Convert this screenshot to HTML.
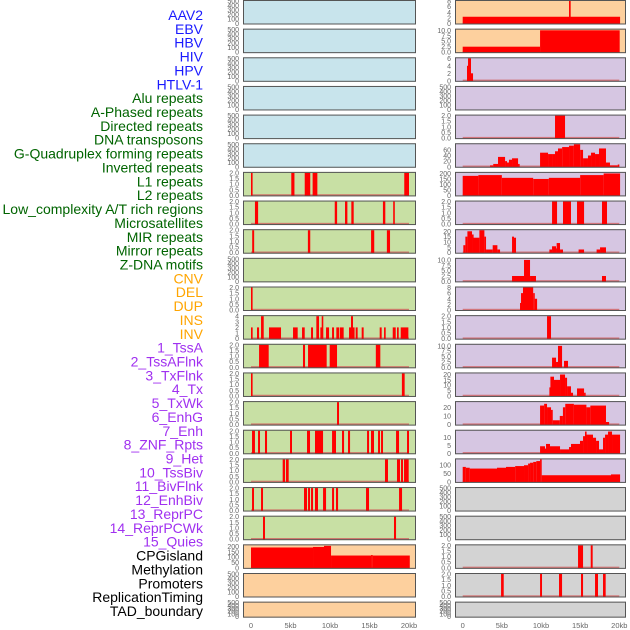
<!DOCTYPE html>
<html><head><meta charset="utf-8">
<style>
html,body{margin:0;padding:0;background:#fff;width:630px;height:630px;overflow:hidden}
svg{display:block}
</style></head>
<body>
<svg id="chart" width="630" height="630" viewBox="0 0 630 630" xmlns="http://www.w3.org/2000/svg">
<g id="labels"></g>
<g id="panels"></g>
<g id="xaxis"></g>
</svg>
<script>
// ---- track labels ----
const labelNames = ["AAV2","EBV","HBV","HIV","HPV","HTLV-1","Alu repeats","A-Phased repeats","Directed repeats","DNA transposons","G-Quadruplex forming repeats","Inverted repeats","L1 repeats","L2 repeats","Low_complexity A/T rich regions","Microsatellites","MIR repeats","Mirror repeats","Z-DNA motifs","CNV","DEL","DUP","INS","INV","1_TssA","2_TssAFlnk","3_TxFlnk","4_Tx","5_TxWk","6_EnhG","7_Enh","8_ZNF_Rpts","9_Het","10_TssBiv","11_BivFlnk","12_EnhBiv","13_ReprPC","14_ReprPCWk","15_Quies","CPGisland","Methylation","Promoters","ReplicationTiming","TAD_boundary"];
const labelGroups = ["v","v","v","v","v","v","r","r","r","r","r","r","r","r","r","r","r","r","r","s","s","s","s","s","c","c","c","c","c","c","c","c","c","c","c","c","c","c","c","o","o","o","o","o"];

// ---- x axis ----
const xTickValues = [0,5,10,15,20];
const xTickLabels = ["0","5kb","10kb","15kb","20kb"];

// ---- column 1 data: [startKb, endKb, value] ----
const c1_L1 = [[0,0.2,2],[5.1,5.5,2],[6.8,7.5,2],[7.8,8.4,2],[19.4,20,2]];
const c1_L2 = [[0.5,0.9,2],[10.6,10.9,2],[11.9,12.2,2],[12.7,13.0,2],[16.7,17.0,2],[18.0,18.2,2]];
const c1_LowComplexity = [[0.15,0.4,2],[7.2,7.5,2],[15.2,15.6,2],[17.2,17.6,2]];
const c1_DEL = [[0,0.2,2]];
const c1_INS = [[0,0.21,2],[0.76,1.02,2],[1.27,1.61,4],[2.28,3.8,2],[5.32,5.91,2],[6.46,6.8,2],[7.6,7.85,2],[8.27,8.61,4],[8.78,8.95,2],[8.95,9.12,4],[9.5,9.88,2],[10.26,10.51,2],[10.8,11.14,2],[11.23,11.73,2],[12.41,12.66,2],[12.66,12.91,4],[12.91,13.08,2],[13.25,13.5,2],[14.01,14.26,2],[16.29,16.54,2],[16.84,17.05,2],[17.94,18.32,2],[18.48,18.7,2],[18.95,19.92,2]];
const c1_INV = [[1.02,2.24,2],[6.58,6.84,2],[7.22,9.58,2],[9.96,10.89,2],[15.8,16.37,2]];
const c1_TssA = [[0,0.2,2],[19.1,19.45,2]];
const c1_TssAFlnk = [[10.89,11.14,2]];
const c1_TxFlnk = [[0.13,0.5,2],[0.89,1.14,2],[1.77,2.03,2],[4.94,5.19,2],[7.09,7.47,2],[8.1,9.12,2],[10.26,10.76,2],[11.52,11.78,2],[12.28,12.54,2],[14.69,14.94,2],[15.19,15.57,2],[16.08,16.33,2],[16.46,16.71,2],[18.36,18.74,2],[19.75,20,2]];
const c1_Tx = [[4.01,4.31,2],[4.43,4.77,2],[16.96,17.34,2],[18.48,18.86,2],[18.99,19.24,2],[19.37,19.96,2]];
const c1_TxWk = [[0.13,0.38,2],[1.27,1.52,2],[6.71,7.09,2],[7.22,7.47,2],[7.6,7.85,2],[8.1,8.48,2],[9.12,9.5,2],[10.26,10.51,2],[10.76,11.02,2],[14.56,14.94,2],[18.74,19.12,2]];
const c1_EnhG = [[1.52,1.77,2],[18.1,18.36,2]];
const c1_CPG = [[0,7.85,190],[7.85,9.24,195],[9.24,10.13,205],[10.13,15.2,115],[15.2,15.4,120],[15.4,20.1,115]];

// ---- column 2 data ----
const c2_AAV2 = [[0,20.1,2.4],[13.58,13.79,8]];
const c2_EBV = [[0,9.88,2.5],[9.88,20.05,10]];
const c2_HBV = [[0.55,0.68,4],[0.68,1.06,6],[1.06,1.32,2]];
const c2_HPV = [[11.79,13.07,2]];
const c2_HTLV = [[3.49,3.9,5],[3.9,4.51,10],[4.51,5.41,35],[5.41,5.66,20],[5.66,5.91,15],[5.91,6.3,25],[6.3,7.07,30],[7.07,7.2,10],[9.88,10.9,50],[10.9,11.41,45],[11.41,11.79,45],[11.79,12.17,55],[12.17,12.7,65],[12.7,13.58,70],[13.58,14.2,75],[14.2,15.0,80],[15.0,15.37,60],[15.37,16.0,30],[16.0,16.39,40],[16.39,16.9,50],[16.9,17.41,45],[17.41,18.3,65],[18.3,18.81,15],[18.81,19.8,5],[19.8,19.95,8]];
const c2_Alu = [[0,2,178],[2,5,185],[5,9,160],[9,11,150],[11,15,160],[15,18,185],[18,20.1,200]];
const c2_APhased = [[11.41,12.05,2],[12.81,13.83,2],[14.6,15.5,2],[17.79,18.43,2]];
const c2_Directed = [[0.08,0.34,7],[0.34,0.6,15],[0.6,1.19,20],[1.19,1.36,17],[1.36,2.13,14],[2.13,2.77,21],[2.77,2.98,15],[2.98,3.83,3],[3.83,4.43,7],[4.43,4.77,3],[6.3,6.55,15],[6.55,6.81,14],[11.07,11.41,3],[11.41,11.92,6],[11.92,12.0,4],[12.0,12.43,9],[12.43,12.81,3],[14.8,15.5,3],[17.1,17.54,3],[17.54,18.3,5]];
const c2_DNA = [[6.3,7.83,2.5],[7.83,8.6,10],[8.6,9.36,2.5],[17.79,18.3,2.5]];
const c2_GQuad = [[7.32,7.45,2.5],[7.45,7.7,6],[7.7,9.0,8],[9.0,9.2,6],[9.2,9.5,4]];
const c2_Inverted = [[10.77,11.28,2]];
const c2_L1 = [[11.41,11.92,4.5],[11.92,12.17,2.5],[12.17,12.69,10],[12.94,13.45,3]];
const c2_L2 = [[11.07,11.2,8],[11.2,11.66,18],[11.66,12.43,15],[12.43,13.07,20],[13.07,13.33,17],[13.33,13.83,9],[13.83,14.09,3],[14.6,15.5,7],[15.5,15.63,3]];
const c2_LowComplexity = [[9.88,10.4,22],[10.4,10.77,24],[10.77,11.28,20],[11.28,11.5,17],[11.5,12.4,5],[12.4,12.8,10],[12.8,13.1,20],[13.1,14.2,24],[14.2,15.8,23],[15.8,16.3,20],[16.3,18.3,22],[18.3,18.7,3]];
const c2_Micro = [[9.88,10.51,4.5],[10.51,10.64,3],[10.64,11.15,6],[11.15,12.43,4.5],[12.43,13.58,2.5],[13.58,13.83,4],[13.83,14.98,6],[14.98,15.37,8],[15.37,15.62,11],[15.62,15.75,14],[15.75,16.0,12],[16.0,16.64,12],[16.64,17.03,10],[17.03,17.41,8],[17.41,17.92,2.5],[17.92,18.18,10],[18.18,18.56,12],[18.56,19.07,14],[19.07,20.1,12]];
const c2_MIR = [[0,0.4,90],[0.4,0.9,85],[0.9,4.38,80],[4.38,5.53,85],[5.53,6.7,90],[6.7,7.83,95],[7.83,8.35,100],[8.35,8.6,110],[8.6,9.0,115],[9.0,9.4,120],[9.4,9.88,125],[9.88,10.09,135],[10.09,18.94,40],[18.94,20.1,45]];
const c2_Quies = [[14.73,15.37,2],[16.35,16.6,2]];
const c2_ReplTiming = [[4.9,5.24,2],[9.88,10.13,2],[12.3,12.69,2],[15.11,15.37,2],[16.9,17.28,2],[17.92,18.26,2]];

// ---- tick label sets ----
const ticks500 = ["0","100","200","300","400","500"];
const ticks2 = ["0.0","0.5","1.0","1.5","2.0"];
const ticks4 = ["0","1","2","3","4"];
const ticks200 = ["0","50","100","150","200"];
const ticks8 = ["0","2","4","6","8"];
const ticks10 = ["0.0","2.5","5.0","7.5","10.0"];
const ticks6 = ["0","2","4","6"];
const ticks60 = ["0","20","40","60"];
const ticks20 = ["0","5","10","15","20"];
const ticks20b = ["0","10","20"];
const ticks10b = ["0","5","10"];
const ticks100 = ["0","50","100"];

const BLUE="#c8e4ec", GREEN="#c8e0a4", ORANGE="#fdd09e", PURPLE="#d6c6e2", GRAY="#d3d3d3";
// [column, row, background, yMax, tickLabels, data, name]
const panelList = [
 [1,0,BLUE,500,ticks500,[], "aav2"],[1,1,BLUE,500,ticks500,[], "ebv"],[1,2,BLUE,500,ticks500,[], "hbv"],
 [1,3,BLUE,500,ticks500,[], "hiv"],[1,4,BLUE,500,ticks500,[], "hpv"],[1,5,BLUE,500,ticks500,[], "htlv"],
 [1,6,GREEN,2,ticks2,c1_L1,"l1"],[1,7,GREEN,2,ticks2,c1_L2,"l2"],[1,8,GREEN,2,ticks2,c1_LowComplexity,"low-complexity"],
 [1,9,GREEN,500,ticks500,[],"microsatellites"],[1,10,GREEN,2,ticks2,c1_DEL,"del"],[1,11,GREEN,4,ticks4,c1_INS,"ins"],
 [1,12,GREEN,2,ticks2,c1_INV,"inv"],[1,13,GREEN,2,ticks2,c1_TssA,"tssa"],[1,14,GREEN,2,ticks2,c1_TssAFlnk,"tssaflnk"],
 [1,15,GREEN,2,ticks2,c1_TxFlnk,"txflnk"],[1,16,GREEN,2,ticks2,c1_Tx,"tx"],[1,17,GREEN,2,ticks2,c1_TxWk,"txwk"],
 [1,18,GREEN,2,ticks2,c1_EnhG,"enhg"],[1,19,ORANGE,210,ticks200,c1_CPG,"cpgisland"],[1,20,ORANGE,500,ticks500,[],"methylation"],
 [1,21,ORANGE,500,ticks500,[],"promoters"],
 [2,0,ORANGE,8,ticks8,c2_AAV2,"aav2"],[2,1,ORANGE,10.3,ticks10,c2_EBV,"ebv"],[2,2,PURPLE,6,ticks6,c2_HBV,"hbv"],
 [2,3,PURPLE,500,ticks500,[],"hiv"],[2,4,PURPLE,2,ticks2,c2_HPV,"hpv"],[2,5,PURPLE,80,ticks60,c2_HTLV,"htlv"],
 [2,6,PURPLE,205,ticks200,c2_Alu,"alu"],[2,7,PURPLE,2,ticks2,c2_APhased,"a-phased"],[2,8,PURPLE,21,ticks20,c2_Directed,"directed"],
 [2,9,PURPLE,10.5,ticks10,c2_DNA,"dna-transposons"],[2,10,PURPLE,8,ticks8,c2_GQuad,"g-quadruplex"],[2,11,PURPLE,2,ticks2,c2_Inverted,"inverted"],
 [2,12,PURPLE,10.5,ticks10,c2_L1,"l1"],[2,13,PURPLE,21,ticks20,c2_L2,"l2"],[2,14,PURPLE,26,ticks20b,c2_LowComplexity,"low-complexity"],
 [2,15,PURPLE,14.5,ticks10b,c2_Micro,"microsatellites"],[2,16,PURPLE,135,ticks100,c2_MIR,"mir"],[2,17,GRAY,500,ticks500,[],"mirror"],
 [2,18,GRAY,500,ticks500,[],"z-dna"],[2,19,GRAY,2,ticks2,c2_Quies,"quies"],[2,20,GRAY,2,ticks2,c2_ReplTiming,"replication-timing"],
 [2,21,GRAY,500,ticks500,[],"tad-boundary"]
];

const NS="http://www.w3.org/2000/svg";
function mk(tag, attrs, parent){const e=document.createElementNS(NS,tag);for(const k in attrs)e.setAttribute(k,attrs[k]);parent.appendChild(e);return e;}
const cols = {1:{left:243,right:416,x0:251,x20:409},2:{left:455,right:626,x0:462.7,x20:619.3}};
function xScale(c,kb){const C=cols[c];return C.x0+(C.x20-C.x0)*kb/20;}
function rowTop(r){return r*28.65;}
function rowH(r){return r===21?16:24.5;}
function yScale(r,max,v){const t=rowTop(r)+1,b=rowTop(r)+rowH(r)-1;return b-(b-t)*v/max;}

// labels
const LG=document.getElementById('labels');
const colorMap={v:"#1a1aff",r:"#006400",s:"#ffa500",c:"#a030f0",o:"#000000"};
labelNames.forEach((n,i)=>{
  const t=mk('text',{x:203,y:20+i*13.86,'text-anchor':'end','font-family':'Liberation Sans, sans-serif','font-size':'14',fill:colorMap[labelGroups[i]]},LG);
  
  
  t.textContent=n;
});

// panels
const PG=document.getElementById('panels');
panelList.forEach(p=>{
  const [c,r,bg,max,tl,data,name]=p;
  const C=cols[c];
  const g=mk('g',{},PG);
  
  
  const top=rowTop(r),h=rowH(r);
  const bgr=mk('rect',{x:C.left,y:top,width:C.right-C.left,height:h,fill:bg},g);
  
  
  if(data.length){
    const bl=mk('rect',{x:xScale(c,0),y:yScale(r,max,0)-1.2,width:xScale(c,20)-xScale(c,0),height:1.6,fill:"#d05a5a",opacity:0.75},g);
    
    
  }
  data.forEach(d=>{
    const x1=xScale(c,d[0]),x2=xScale(c,d[1]);
    const y=yScale(r,max,d[2]),y0=yScale(r,max,0);
    const b=mk('rect',{x:x1,y:y,width:Math.max(1.6,x2-x1),height:Math.max(0.5,y0-y+0.5),fill:"#ff0000"},g);
    
    
  });
  const br=mk('rect',{x:C.left+0.5,y:top+0.5,width:C.right-C.left-1,height:h-1,fill:"none",stroke:"#555",'stroke-width':1},g);
  
  
  const n=tl.length;
  const tmax=parseFloat(tl[n-1]);
  tl.forEach(s=>{
    const v=parseFloat(s);
    const t=mk('text',{x:C.left-4,y:yScale(r,max,v)+2.5,'text-anchor':'end','font-family':'Liberation Sans, sans-serif','font-size':'7',fill:"#666"},g);
    
    
    t.textContent=s;
  });
});

// x axis
const XG=document.getElementById('xaxis');
[1,2].forEach(c=>{
  xTickValues.forEach((v,i)=>{
    const t=mk('text',{x:xScale(c,v),y:628,'text-anchor':'middle','font-family':'Liberation Sans, sans-serif','font-size':'7.5',fill:"#666"},XG);
    
    
    t.textContent=xTickLabels[i];
  });
});
</script>
</body></html>
